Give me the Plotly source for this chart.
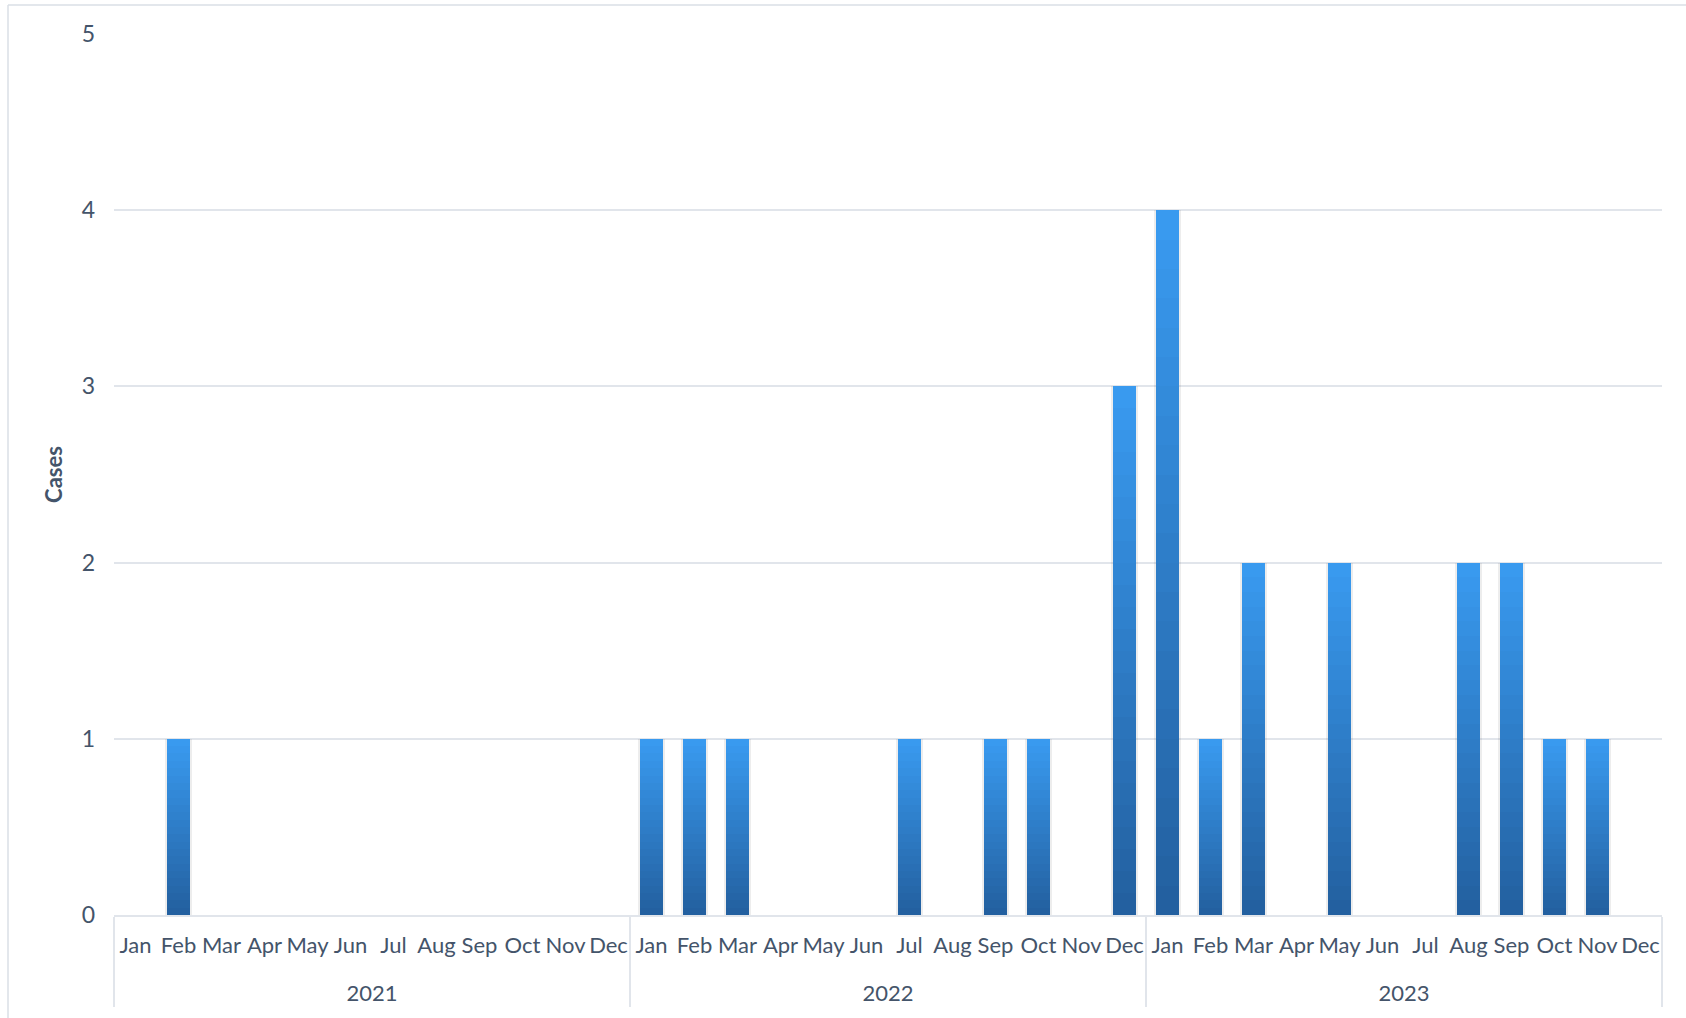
import plotly.graph_objects as go

years = ["2021"] * 12 + ["2022"] * 12 + ["2023"] * 12
month_names = ["Jan", "Feb", "Mar", "Apr", "May", "Jun", "Jul", "Aug", "Sep", "Oct", "Nov", "Dec"]
months = month_names * 3
cases_2021 = [0, 1, 0, 0, 0, 0, 0, 0, 0, 0, 0, 0]
cases_2022 = [1, 1, 1, 0, 0, 0, 1, 0, 1, 1, 0, 3]
cases_2023 = [4, 1, 2, 0, 2, 0, 0, 2, 2, 1, 1, 0]
cases = cases_2021 + cases_2022 + cases_2023

TEXT = "#44546A"
GRID = "#E1E5EB"
TOP = (0x39, 0x9A, 0xEF)
BOT = (0x23, 0x60, 0xA0)
FONT = "Lato"
BAR_W = 0.535
N = 24

fig = go.Figure()
# year labels sit one (empty) line lower, as in the reference
x = [["<br>" + y for y in years], months]

# subtle shadow
fig.add_trace(go.Bar(x=x, y=cases, width=0.62, marker=dict(color="rgba(0,0,0,0.07)", line=dict(width=0)),
                     hoverinfo="skip", showlegend=False))
# main bar + gradient overlays (light at top -> dark at bottom)
for k in range(N):
    t = k / (N - 1)
    c = tuple(round(TOP[i] + (BOT[i] - TOP[i]) * t) for i in range(3))
    frac = (N - k) / N
    fig.add_trace(go.Bar(
        x=x, y=[v * frac for v in cases], width=BAR_W,
        marker=dict(color="rgb(%d,%d,%d)" % c, line=dict(width=0)),
        hoverinfo="skip" if k else None, showlegend=False,
        name="Cases",
    ))

fig.update_layout(
    width=1686, height=1018,
    margin=dict(l=114, r=24, t=34, b=103),
    paper_bgcolor="white", plot_bgcolor="white",
    barmode="overlay", bargap=0,
    font=dict(family=FONT, color=TEXT),
    showlegend=False,
    shapes=[
        dict(type="line", xref="paper", yref="paper", x0=(8 - 114) / 1548, x1=(8 - 114) / 1548,
             y0=1 + (34 - 1018) / 881, y1=1 + (34 - 5) / 881, line=dict(color="#DADFE6", width=1.5)),
        dict(type="line", xref="paper", yref="paper", x0=(8 - 114) / 1548, x1=1 + 24 / 1548,
             y0=1 + (34 - 5) / 881, y1=1 + (34 - 5) / 881, line=dict(color="#DADFE6", width=1.5)),
    ],
)
fig.update_yaxes(
    range=[0, 5], dtick=1, showgrid=True, gridcolor=GRID, gridwidth=1.5,
    zeroline=False, showline=False, automargin=False,
    tickfont=dict(family=FONT, size=23, color=TEXT),
    ticklabelstandoff=18,
    title=dict(text="<b>Cases</b>", font=dict(family=FONT, size=22, color=TEXT), standoff=12),
)
fig.update_xaxes(
    type="multicategory", tickangle=0, automargin=False,
    showline=True, linecolor=GRID, linewidth=1.5,
    showgrid=False, ticks="",
    ticklabelstandoff=10,
    tickfont=dict(family=FONT, size=22, color=TEXT),
    showdividers=True, dividercolor=GRID, dividerwidth=1.5,
)

fig.write_html("out.html")
